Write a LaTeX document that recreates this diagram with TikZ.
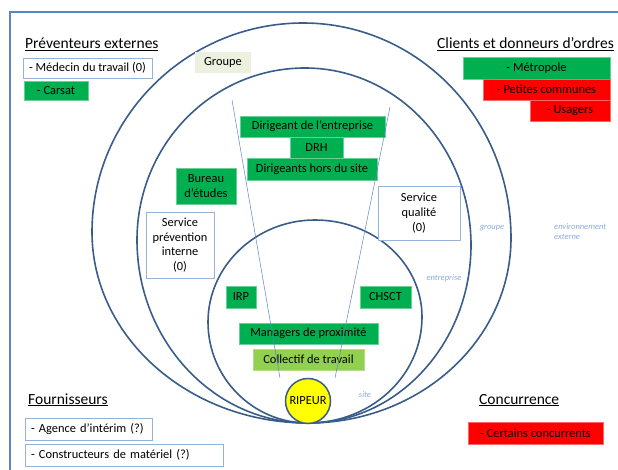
\documentclass[tikz,border=0pt]{standalone}
\usepackage{fontspec}
\setmainfont{Carlito}
\usetikzlibrary{positioning}
\definecolor{vert}{HTML}{00B050}
\definecolor{vertclair}{HTML}{92D050}
\definecolor{rouge}{HTML}{FF0000}
\definecolor{jaune}{HTML}{FFFF00}
\definecolor{beige}{HTML}{EBF1DE}
\definecolor{cadre}{HTML}{5B86C2}
\definecolor{trait}{HTML}{385D8A}
\definecolor{bord}{HTML}{95B3D7}
\definecolor{etiquette}{HTML}{8EA9DB}

\begin{document}
\begin{tikzpicture}[x=1pt, y=-1pt,
    boite/.style={rectangle, inner sep=0pt, align=center, font=\fontsize{12.4}{14.6}\selectfont},
    vertbox/.style={boite, fill=vert, draw=vert!60},
    rougebox/.style={boite, fill=rouge, draw=rouge!60},
    blancbox/.style={boite, fill=white, draw=bord, line width=0.8pt},
    listebox/.style={blancbox, align=left, inner xsep=6pt},
    titre/.style={anchor=base west, inner sep=0pt, font=\fontsize{15.5}{18}\selectfont},
    zone/.style={inner sep=0pt, align=left, text=etiquette, font=\fontsize{8.5}{10}\selectfont\itshape},
    sphere/.style={draw=trait, line width=1.6pt}]
    \useasboundingbox (0,0) rectangle (618,470);

    % cadre
    \draw[cadre, line width=1.8pt] (10,480) -- (10,12) -- (630,12);

    % sphères : environnement / groupe / entreprise / site
    \draw[sphere] (308,423) .. controls (420,423) and (511,340) .. (511,238)
        .. controls (511,119) and (418,23) .. (303,23)
        .. controls (187,23) and (92,117) .. (92,232)
        .. controls (92,337) and (189,423) .. (308,423);
    \draw[sphere] (308,423) .. controls (398,423) and (471,343) .. (471,245)
        .. controls (471,147) and (397,68) .. (305,68)
        .. controls (212,68) and (137,145) .. (137,240)
        .. controls (137,341) and (214,423) .. (308,423);
    \draw[sphere] (308,423) .. controls (371,423) and (422,376) .. (422,317)
        .. controls (422,263) and (374,220) .. (315,220)
        .. controls (256,220) and (208,266) .. (208,322)
        .. controls (208,378) and (253,423) .. (308,423);

    % titres
    \node[titre] (hprev) at (25,49) {\underline{Préventeurs externes}};
    \node[titre] (hclients) at (437,49) {\underline{Clients et donneurs d’ordres}};
    \node[titre] (hfourn) at (28,404) {\underline{Fournisseurs}};
    \node[titre] (hconc) at (479,404) {\underline{Concurrence}};

    % préventeurs externes
    \node[blancbox, minimum width=129pt, minimum height=20pt] (medecin) at (87.5,68) {- Médecin du travail (0)};
    \node[vertbox, minimum width=64pt, minimum height=19pt] (carsat) at (56,90.5) {- Carsat};

    % clients
    \node[vertbox, minimum width=147pt, minimum height=22pt] (metropole) at (536.5,68) {- Métropole};
    \node[rougebox, minimum width=127pt, minimum height=21pt] (communes) at (546.5,89.5) {- Petites communes};
    \node[rougebox, minimum width=80pt, minimum height=21pt] (usagers) at (570,110.5) {- Usagers};

    % groupe et entreprise
    \node[boite, fill=beige, minimum width=56pt, minimum height=21pt] (groupe) at (223,62.5) {Groupe};
    \node[vertbox, minimum width=145pt, minimum height=21pt] (dirigeant) at (312.5,126.5) {Dirigeant de l’entreprise};
    \node[vertbox, minimum width=53pt, minimum height=21pt] (drh) at (316.5,147.5) {DRH};
    \node[vertbox, minimum width=130pt, minimum height=22pt] (dirhors) at (312,169) {Dirigeants hors du site};
    \node[vertbox, minimum width=60pt, minimum height=36pt] (bureau) at (206,186) {Bureau\\d’études};
    \node[blancbox, minimum width=68pt, minimum height=66pt] (prevint) at (180,245) {Service\\prévention\\interne\\(0)};
    \node[blancbox, minimum width=82pt, minimum height=54pt] (qualite) at (419,213) {Service\\qualité\\(0)};

    % site
    \node[vertbox, minimum width=30pt, minimum height=22pt] (irp) at (241,297) {IRP};
    \node[vertbox, minimum width=51pt, minimum height=22pt] (chsct) at (385.5,297) {CHSCT};
    \node[vertbox, minimum width=139pt, minimum height=21pt] (managers) at (308.5,333.5) {Managers de proximité};
    \node[boite, fill=vertclair, draw=vertclair!70, minimum width=111pt, minimum height=21pt] (collectif) at (308.5,359.5) {Collectif de travail};

    % cône
    \coordinate (cg1) at (232,100);
    \coordinate (cg2) at (280,378);
    \coordinate (cd1) at (390,107);
    \coordinate (cd2) at (335,378);
    \draw[cadre, line width=0.5pt] (cg1) -- (cg2);
    \draw[cadre, line width=0.5pt] (cd1) -- (cd2);

    \node[circle, fill=jaune, draw=trait, line width=1.5pt, minimum size=45pt, inner sep=0pt,
        font=\fontsize{12.4}{14}\selectfont] (ripeur) at (308,401) {RIPEUR};

    % noms des zones
    \node[zone] (lsite) at (365,395) {site};
    \node[zone] (lentreprise) at (444,278) {entreprise};
    \node[zone] (lgroupe) at (492,228) {groupe};
    \node[zone, anchor=north west] (lexterne) at (554,223) {environnement\\externe};

    % fournisseurs et concurrence
    \node[listebox, text width=115pt, minimum height=22pt] (agence) at (88.5,429) {- Agence d’intérim (?)};
    \node[listebox, text width=186pt, minimum height=22pt] (materiel) at (124,455) {- Constructeurs de matériel (?)};
    \node[rougebox, minimum width=135pt, minimum height=22pt] (concurrents) at (535.5,433) {- Certains concurrents};
\end{tikzpicture}
\end{document}
